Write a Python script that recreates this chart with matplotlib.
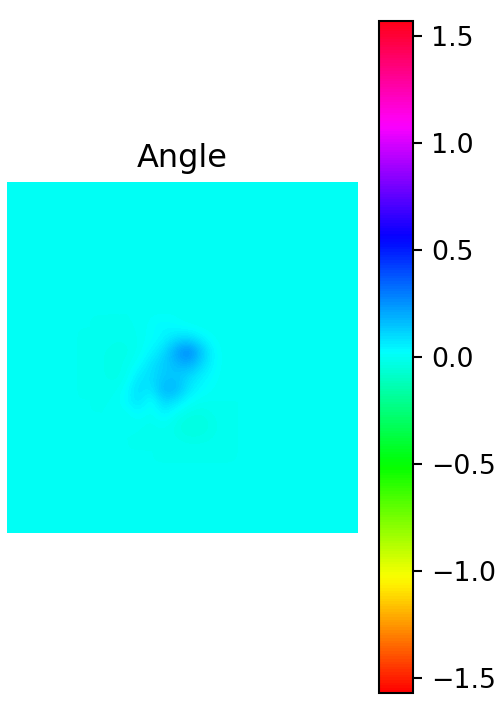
import numpy as np
import matplotlib
matplotlib.use("Agg")
import matplotlib.pyplot as plt

title = "Angle"
cbar_ticks = [-1.5, -1.0, -0.5, 0.0, 0.5, 1.0, 1.5]
# angle estimates, in hundredths of a radian
angle_grid = [
 [0]*28,
 [0]*28,
 [0]*28,
 [0]*28,
 [0]*17 + [0,1,1,1,0] + [0]*6,
 [0]*17 + [0,1,1,1,0] + [0]*6,
 [0]*28,
 [0]*28,
 [0]*28,
 [0]*28,
 [0,0,0,0,0,0,0, 0,0,0,0,1,1,1,0,0,0,0, 0,0,0,0,0,0,0,0,0,0],
 [0,0,0,0,0,0,0, 0,0,0,0,2,4,2,1,0,0,0, 0,0,0,0,0,0,0,0,0,0],
 [0,0,0,0,0,0,0, 0,-1,-1,0,2,4,9,10,5,1,0, 0,0,0,0,0,0,0,0,0,0],
 [0,0,0,0,0,0,0, -1,-2,-2,0,4,9,22,30,15,3,0, 0,0,0,0,0,0,0,0,0,0],
 [0,0,0,0,0,0,0, -1,-2,-1,2,8,13,17,20,11,3,0, 0,0,0,0,0,0,0,0,0,0],
 [0,0,0,0,0,0,0, -1,-2,-1,7,9,13,14,10,5,2,0, 0,0,0,0,0,0,0,0,0,0],
 [0,0,0,0,0,0,0, 0,-1,2,10,6,19,18,7,3,1,0, 0,0,0,0,0,0,0,0,0,0],
 [0,0,0,0,0,0,0, 0,0,3,9,0,11,7,2,0,0,0, 0,0,0,0,0,0,0,0,0,0],
 [0,0,0,0,0,0,0, 0,0,0,3,0,5,0,-2,-3,-1,0, 0,0,0,0,0,0,0,0,0,0],
 [0,0,0,0,0,0,0, 0,0,0,0,-1,0,-2,-5,-4,-2,0, 0,0,0,0,0,0,0,0,0,0],
 [0,0,0,0,0,0,0, 0,0,0,0,0,0,-1,-2,-2,-1,0, 0,0,0,0,0,0,0,0,0,0],
 [0]*28,
 [0]*28,
 [0]*28,
 [0]*28,
 [0]*28,
 [0]*28,
 [0]*28,
]

W, H = 502, 709
fig = plt.figure(figsize=(W/100, H/100), dpi=100)
ax = fig.add_axes([7/W, 1-533/H, 351/W, 351/H])
im = ax.imshow(np.array(angle_grid)/100, cmap="hsv", vmin=-np.pi/2, vmax=np.pi/2,
               interpolation="bicubic", aspect="equal")
ax.set_axis_off()
ax.set_title(title, fontsize=23, pad=11)

cax = fig.add_axes([379.5/W, 1-693/H, 33.5/W, 672/H])
cb = fig.colorbar(im, cax=cax)
cb.set_ticks(cbar_ticks)
cb.ax.tick_params(labelsize=19.3, length=6.3, width=1.5, pad=7)
cb.outline.set_linewidth(1.5)
fig.savefig("out.png", dpi=100)
